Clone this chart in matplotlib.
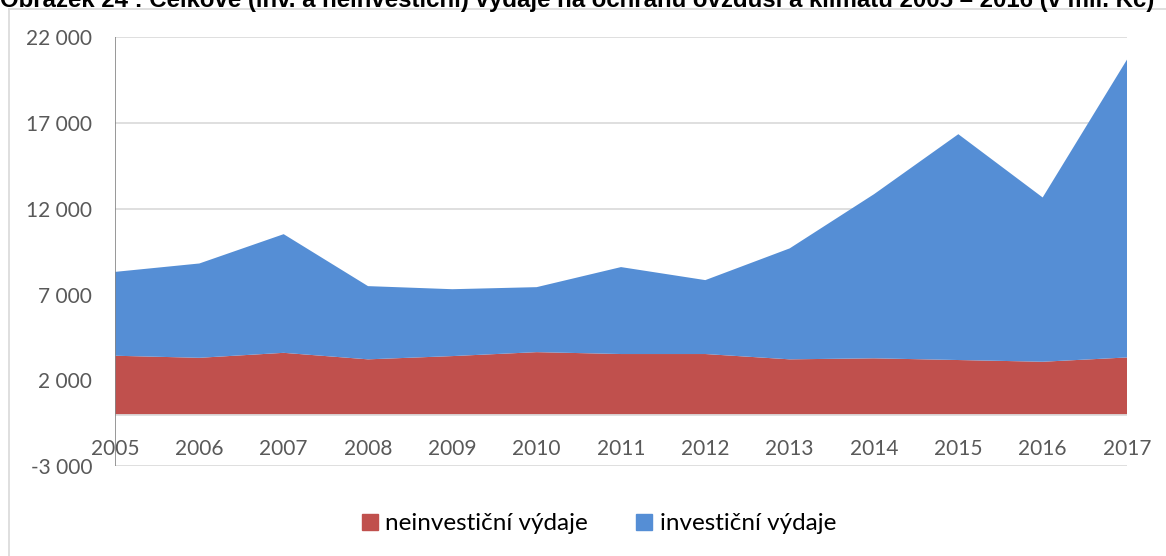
import matplotlib.pyplot as plt
from matplotlib.lines import Line2D
from matplotlib.patches import Patch
import matplotlib.transforms as mtransforms

years = [2005, 2006, 2007, 2008, 2009, 2010, 2011, 2012, 2013, 2014, 2015, 2016, 2017]
neinvesticni = [3430, 3310, 3600, 3220, 3410, 3640, 3530, 3530, 3220, 3280, 3180, 3080, 3330]
investicni = [4890, 5500, 6920, 4270, 3900, 3790, 5070, 4310, 6470, 9570, 13170, 9580, 17370]
y_ticks = [-3000, 2000, 7000, 12000, 17000, 22000]
y_labels = ["-3 000", "2 000", "7 000", "12 000", "17 000", "22 000"]
title = "Obrázek 24 : Celkové (inv. a neinvestiční) výdaje na ochranu ovzduší a klimatu 2005 – 2016 (v mil. Kč)"

red = "#C0504D"
blue = "#558ED5"
grid_c = "#D9D9D9"
txt_c = "#595959"
font = ["Lato", "DejaVu Sans"]

W, H = 1166, 556
fig = plt.figure(figsize=(W / 100, H / 100), dpi=100)
ax = fig.add_axes([115 / W, 1 - 466 / H, (1127 - 115) / W, (466 - 37.3) / H])

ax.stackplot(years, neinvesticni, investicni, colors=[red, blue],
             labels=["neinvestiční výdaje", "investiční výdaje"], zorder=2)

ax.set_xlim(2005, 2017)
ax.set_ylim(-3000, 22000)
ax.set_yticks(y_ticks)
ax.set_yticklabels(y_labels, fontsize=15, color=txt_c, family=font)
ax.tick_params(axis="y", length=0, pad=16.5)
ax.set_xticks([])
for s in ax.spines.values():
    s.set_visible(False)
for t in y_ticks:
    ax.axhline(t, color=grid_c, lw=1.2, zorder=1)
ax.axhline(0, color=grid_c, lw=1.2, zorder=3)
ax.axvline(2005, color="#868686", lw=1.2, zorder=3)

# x labels sit below the zero line
trans = ax.transData + mtransforms.ScaledTranslation(0, -34 / 100, fig.dpi_scale_trans)
for yr in years:
    ax.text(yr, 0, str(yr), transform=trans,
            ha="center", va="center", fontsize=15, color=txt_c, family=font)

handles = [Patch(color=red), Patch(color=blue)]
fig.legend(handles, ["neinvestiční výdaje", "investiční výdaje"], loc="center",
           bbox_to_anchor=(599 / W, 1 - 524 / H), ncol=2, frameon=False,
           prop={"family": font, "size": 17.5}, handlelength=0.65, handleheight=0.65,
           handletextpad=0.3, columnspacing=2.0)

# chart frame
fig.add_artist(Line2D([9 / W, 9 / W], [0, 1 - 9 / H], color=grid_c, lw=1.2))
fig.add_artist(Line2D([9 / W, 1], [1 - 9 / H, 1 - 9 / H], color=grid_c, lw=1.2))

# title, clipped by the top edge as in the source
fig.text(0.0, 1 - 7 / H, title, ha="left", va="baseline", fontsize=17.3,
         fontweight="bold", family=["Liberation Sans Narrow", "Liberation Sans", "DejaVu Sans"])

fig.savefig("out.png", dpi=100)
